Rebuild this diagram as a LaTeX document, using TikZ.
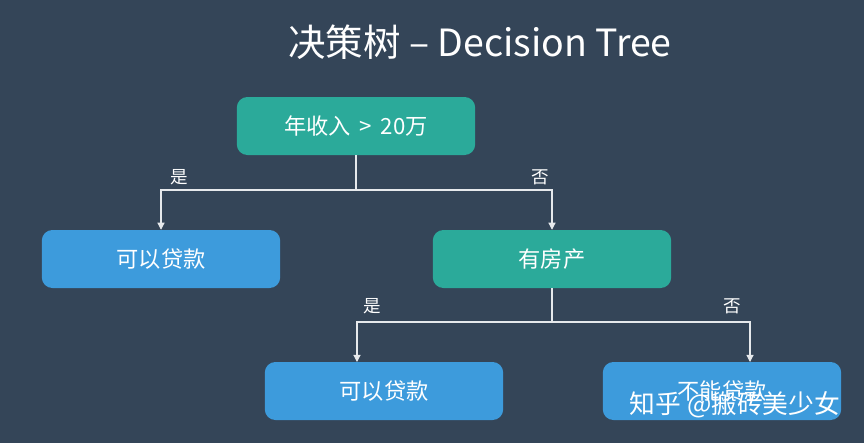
\documentclass[tikz,border=0pt]{standalone}
\usepackage{fontspec}
\setmainfont{Noto Sans CJK SC}
\usetikzlibrary{arrows.meta,positioning,calc}
\definecolor{bgslate}{HTML}{344558}
\definecolor{tealbox}{HTML}{2BAA9A}
\definecolor{bluebox}{HTML}{3D9BDC}
\definecolor{linegray}{HTML}{E6E9EC}

\begin{document}
\begin{tikzpicture}[x=0.03cm,y=-0.03cm,
    box/.style={rounded corners=9pt, minimum width=7.15cm, minimum height=1.74cm,
      text=white, font=\fontsize{19}{21}\selectfont, inner sep=0pt},
    ask/.style={box, fill=tealbox},
    leaf/.style={box, fill=bluebox},
    branch/.style={linegray, line width=0.9pt},
    edge/.style={branch, -{Triangle[length=6pt,width=6pt]}},
    tag/.style={text=white, font=\fontsize{15}{17}\selectfont}]
  % background
  \fill[bgslate] (0,0) rectangle (864,443);
  \useasboundingbox (0,0) rectangle (864,443);

  % title
  \node[text=white, font=\fontsize{32}{36}\selectfont] (title) at (480,42) {决策树 – Decision Tree};

  % nodes
  \node[ask]  (income) at (356,126) {年收入 \,>\, 20万};
  \node[leaf] (loanA)  at (161,259) {可以贷款};
  \node[ask]  (house)  at (552,259) {有房产};
  \node[leaf] (loanB)  at (384,391) {可以贷款};
  \node[leaf] (noloan) at (722,391) {不能贷款};

  % first split
  \coordinate (split1) at (356,190);
  \draw[branch] (income.south) -- (split1);
  \draw[edge] (split1) -| (loanA.north);
  \draw[edge] (split1) -| (house.north);
  \node[tag] (yes1) at (179,177) {是};
  \node[tag] (no1)  at (540,177) {否};

  % second split
  \coordinate (split2) at (552,322);
  \coordinate (tipB) at (357,362);
  \coordinate (tipC) at (750,362);
  \draw[branch] (house.south) -- (split2);
  \draw[edge] (split2) -| (tipB);
  \draw[edge] (split2) -| (tipC);
  \node[tag] (yes2) at (372,306) {是};
  \node[tag] (no2)  at (732,306) {否};

  % watermark
  \node[text=white, font=\fontsize{22}{24}\selectfont] (mark) at (735,405) {知乎 @搬砖美少女};
\end{tikzpicture}
\end{document}
